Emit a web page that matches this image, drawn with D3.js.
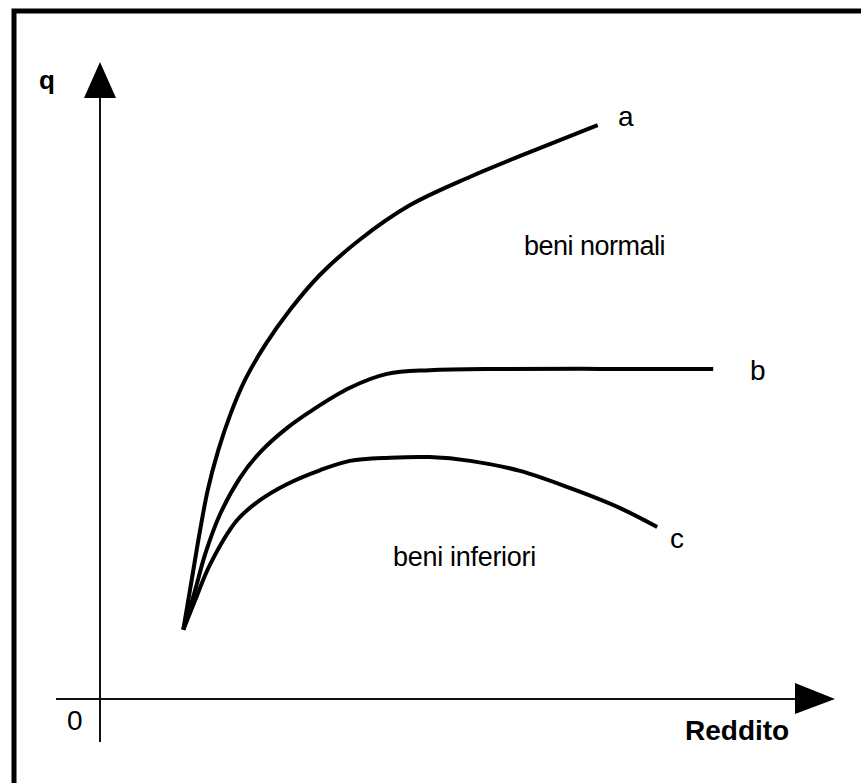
<!DOCTYPE html>
<html>
<head>
<meta charset="utf-8">
<script src="https://cdn.jsdelivr.net/npm/d3@7/dist/d3.min.js"></script>
<style>
  html, body { margin: 0; padding: 0; background: #fff; }
  svg { display: block; }
  text { font-family: "Liberation Sans", Arial, sans-serif; fill: #000; }
</style>
</head>
<body>
<svg id="chart" width="861" height="783"></svg>
<script>
// Income (Reddito) values and quantities q for each curve, in chart units
const curveA_x = [11.9, 13.1, 14.3, 15.4, 16.9, 18.6, 20.7, 23.6, 27.1, 31.4, 37.1, 44.3, 52.9, 61.4, 71.1];
const curveA_q = [11.0, 18.9, 26.8, 33.2, 39.5, 45.1, 50.6, 56.2, 61.7, 67.3, 72.9, 78.4, 82.9, 86.8, 91.1];

const curveB_x = [11.9, 13.6, 15.0, 17.1, 20.0, 22.9, 26.7, 30.4, 35.7, 41.0, 47.1, 57.1, 71.4, 87.6];
const curveB_q = [11.0, 17.3, 22.9, 29.2, 35.1, 39.2, 43.0, 45.9, 49.4, 51.6, 52.2, 52.4, 52.4, 52.4];

const curveC_x = [11.9, 13.6, 15.7, 19.6, 22.9, 26.7, 31.4, 35.7, 41.4, 47.1, 52.9, 60.0, 67.1, 74.3, 79.6];
const curveC_q = [11.0, 15.7, 21.3, 28.4, 31.6, 34.1, 36.3, 37.8, 38.3, 38.4, 37.8, 36.2, 33.5, 30.3, 27.3];

const curveNames = ["a", "b", "c"];
const regionLabels = ["beni normali", "beni inferiori"];
const axisLabels = { y: "q", x: "Reddito", origin: "0" };

const svg = d3.select("#chart");

// scales
const x = d3.scaleLinear().domain([0, 100]).range([100, 800]);
const y = d3.scaleLinear().domain([0, 100]).range([699, 69]);

// frame (only left and top edges visible)
svg.append("path")
  .attr("d", "M14,790 L14,11 L870,11")
  .attr("fill", "none").attr("stroke", "#000").attr("stroke-width", 5);

// axes
const x0 = x(0), y0 = y(0);
svg.append("line").attr("x1", x0).attr("x2", x0).attr("y1", y0 + 43).attr("y2", 90)
  .attr("stroke", "#111").attr("stroke-width", 2);
svg.append("line").attr("x1", x0 - 44).attr("x2", 800).attr("y1", y0).attr("y2", y0)
  .attr("stroke", "#111").attr("stroke-width", 2);

// arrow heads
svg.append("path")
  .attr("d", `M${x0},62 L${x0 + 16},98 L${x0 - 16},98 Z`)
  .attr("fill", "#000");
svg.append("path")
  .attr("d", `M835,${y0} L795,${y0 - 16} L795,${y0 + 15} Z`)
  .attr("fill", "#000");

// curves
const line = d3.line()
  .x(d => x(d[0]))
  .y(d => y(d[1]))
  .curve(d3.curveCatmullRom.alpha(0.5));

const series = [
  d3.zip(curveA_x, curveA_q),
  d3.zip(curveB_x, curveB_q),
  d3.zip(curveC_x, curveC_q)
];

svg.selectAll("path.curve").data(series).enter().append("path")
  .attr("class", "curve")
  .attr("d", line)
  .attr("fill", "none")
  .attr("stroke", "#000")
  .attr("stroke-width", 4)
  .attr("stroke-linecap", "butt")
  .attr("stroke-linejoin", "round");

// curve labels
const labelPos = [[618, 126], [750, 380], [670, 548]];
curveNames.forEach((n, i) => {
  svg.append("text").attr("x", labelPos[i][0]).attr("y", labelPos[i][1])
    .attr("font-size", 28).text(n);
});

// region labels
svg.append("text").attr("x", 524).attr("y", 255).attr("font-size", 27)
  .attr("letter-spacing", -0.5).text(regionLabels[0]);
svg.append("text").attr("x", 393).attr("y", 566).attr("font-size", 27)
  .attr("letter-spacing", -0.3).text(regionLabels[1]);

// axis labels
svg.append("text").attr("x", 39).attr("y", 89).attr("font-size", 26)
  .attr("font-weight", "bold").text(axisLabels.y);
svg.append("text").attr("x", 685).attr("y", 740).attr("font-size", 28)
  .attr("font-weight", "bold").text(axisLabels.x);
svg.append("text").attr("x", 67).attr("y", 730).attr("font-size", 28)
  .text(axisLabels.origin);
</script>
</body>
</html>
